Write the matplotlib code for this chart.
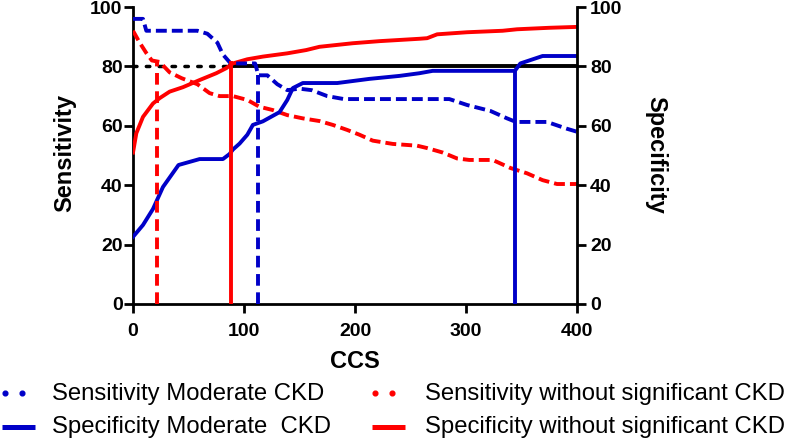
import matplotlib
matplotlib.use("Agg")
import matplotlib.pyplot as plt

# ---------------- data ----------------
sens_mod_x = [0, 9, 12, 58, 67, 76, 81, 88, 110, 113, 121, 130, 139, 150, 161, 175, 190,
              285, 301, 322, 337, 345, 373, 391, 400]
sens_mod_y = [96, 96, 92, 92, 91, 88, 84, 81, 81, 77, 77, 74, 72, 72.5, 72, 70, 69,
              69, 67, 65, 62.5, 61.3, 61.3, 59, 58]

sens_wo_x = [0, 6, 12, 17, 24, 33, 44, 58, 69, 78, 90, 103, 114, 126, 139, 153, 168, 180,
             193, 204, 216, 234, 256, 265, 279, 292, 303, 324, 340, 355, 369, 382, 400]
sens_wo_y = [92, 88, 84.5, 82, 81.5, 78, 76, 74, 71, 70, 70, 68.7, 66.4, 65.3, 63.6, 62.5,
             61.6, 60.3, 58.6, 57, 55, 53.9, 53.3, 52.5, 51, 49, 48.5, 48.5, 45.8, 44, 41.7,
             40.4, 40.4]

spec_mod_x = [0, 9, 18, 27, 41, 60, 81, 87, 90, 96, 103, 108, 117, 132, 139, 144, 153, 184,
              213, 240, 258, 270, 344, 349, 369, 400]
spec_mod_y = [22.6, 26.6, 32, 39.4, 46.8, 48.8, 48.8, 50.5, 52, 54, 57, 60.3, 61.5, 64.6,
              68.7, 72.7, 74.4, 74.4, 75.8, 76.8, 77.7, 78.5, 78.5, 81, 83.5, 83.5]

spec_wo_x = [0, 3, 9, 18, 24, 33, 45, 60, 75, 84, 90, 103, 117, 139, 156, 168, 198, 222,
             258, 265, 274, 301, 333, 346, 375, 400]
spec_wo_y = [51, 57.5, 63, 67.5, 69.3, 71.5, 73, 75.4, 77.7, 79.4, 81, 82.4, 83.3, 84.4,
             85.5, 86.6, 87.8, 88.5, 89.3, 89.5, 90.8, 91.5, 92, 92.5, 93, 93.3]

# cut-off markers (x position, height)
cut_sens_wo = (22, 82)
cut_spec_wo = (88, 81)
cut_sens_mod = (113, 77)
cut_spec_mod = (344, 78.5)

ref_level = 80
ref_split = 87

x_ticks = [0, 100, 200, 300, 400]
y_ticks = [0, 20, 40, 60, 80, 100]

labels = ["Sensitivity Moderate CKD", "Specificity Moderate  CKD",
          "Sensitivity without significant CKD", "Specificity without significant CKD"]

BLUE = "#0000c8"
RED = "#ff0000"
LW = 2.8
DASH = (0, (2.8, 1.3))
VDASH = (0, (3.0, 1.7))
TICK_FS = 14
LABEL_FS = 17
LEG_FS = 17.2

plt.rcParams["font.family"] = ["Liberation Sans", "DejaVu Sans"]

W, H = 793, 441
fig = plt.figure(figsize=(W / 100, H / 100), dpi=100)
ax = fig.add_axes([133 / W, 1 - 304 / H, 444 / W, 297 / H])
ax.set_xlim(0, 400)
ax.set_ylim(0, 100)

# reference line
ax.plot([0, ref_split], [ref_level, ref_level], color="black", lw=2.5,
        linestyle=(0, (1, 2.7)), dash_capstyle="round", zorder=2)
ax.plot([ref_split, 400], [ref_level, ref_level], color="black", lw=LW, zorder=2)

# curves
ax.plot(sens_wo_x, sens_wo_y, color=RED, lw=LW, linestyle=DASH, zorder=3)
ax.plot(spec_wo_x, spec_wo_y, color=RED, lw=LW, zorder=3)
ax.plot(sens_mod_x, sens_mod_y, color=BLUE, lw=LW, linestyle=DASH, zorder=3)
ax.plot(spec_mod_x, spec_mod_y, color=BLUE, lw=LW, zorder=3)

# cut-off verticals
ax.plot([cut_sens_wo[0]] * 2, [0, cut_sens_wo[1]], color=RED, lw=LW, linestyle=VDASH, zorder=3)
ax.plot([cut_spec_wo[0]] * 2, [0, cut_spec_wo[1]], color=RED, lw=LW, zorder=3)
ax.plot([cut_sens_mod[0]] * 2, [0, cut_sens_mod[1]], color=BLUE, lw=LW, linestyle=VDASH, zorder=3)
ax.plot([cut_spec_mod[0]] * 2, [0, cut_spec_mod[1]], color=BLUE, lw=LW, zorder=3)

# axes styling
ax.spines["top"].set_visible(False)
ax.spines["right"].set_visible(False)
for s in ("left", "bottom"):
    ax.spines[s].set_linewidth(2.0)
ax.set_xticks(x_ticks)
ax.set_yticks(y_ticks)
ax.tick_params(axis="both", direction="out", length=6.5, width=2.0)
ax.tick_params(axis="y", pad=1)
ax.tick_params(axis="x", pad=7)
for lab in ax.get_xticklabels() + ax.get_yticklabels():
    lab.set_fontweight("bold")
    lab.set_fontsize(TICK_FS)

ax2 = ax.twinx()
ax2.set_ylim(0, 100)
ax2.set_yticks(y_ticks)
for s in ("top", "left", "bottom"):
    ax2.spines[s].set_visible(False)
ax2.spines["right"].set_linewidth(2.0)
ax2.tick_params(axis="y", direction="out", length=6.5, width=2.0, pad=3)
for lab in ax2.get_yticklabels():
    lab.set_fontweight("bold")
    lab.set_fontsize(TICK_FS)

# axis labels
fig.text(65 / W, 1 - 153 / H, "Sensitivity", rotation=90, ha="center", va="center",
         fontsize=LABEL_FS, fontweight="bold")
fig.text(656 / W, 1 - 155 / H, "Specificity", rotation=270, ha="center", va="center",
         fontsize=LABEL_FS, fontweight="bold")
fig.text(355 / W, 1 - 368 / H, "CCS", ha="center", va="baseline",
         fontsize=LABEL_FS, fontweight="bold")

# legend (pixel coordinate overlay)
lg = fig.add_axes([0, 0, 1, 1])
lg.set_xlim(0, W)
lg.set_ylim(H, 0)
lg.axis("off")
lg.patch.set_alpha(0)

handle_rows = [393, 427]
text_baselines = [400, 433]
cols = [(2, 35, 52), (372, 405, 425)]
colors = [BLUE, RED]
for ci, (x0, x1, xt) in enumerate(cols):
    c = colors[ci]
    # dotted handle
    lg.plot([x0 + 3, x0 + 20], [handle_rows[0], handle_rows[0]], linestyle="none",
            marker="o", markersize=3.4, color=c)
    # solid handle
    lg.plot([x0, x1], [handle_rows[1], handle_rows[1]], color=c, lw=3.6,
            solid_capstyle="butt")
    lg.text(xt, text_baselines[0], labels[ci * 2], fontsize=LEG_FS, ha="left", va="baseline")
    lg.text(xt, text_baselines[1], labels[ci * 2 + 1], fontsize=LEG_FS, ha="left",
            va="baseline")

fig.savefig("out.png", dpi=100)
